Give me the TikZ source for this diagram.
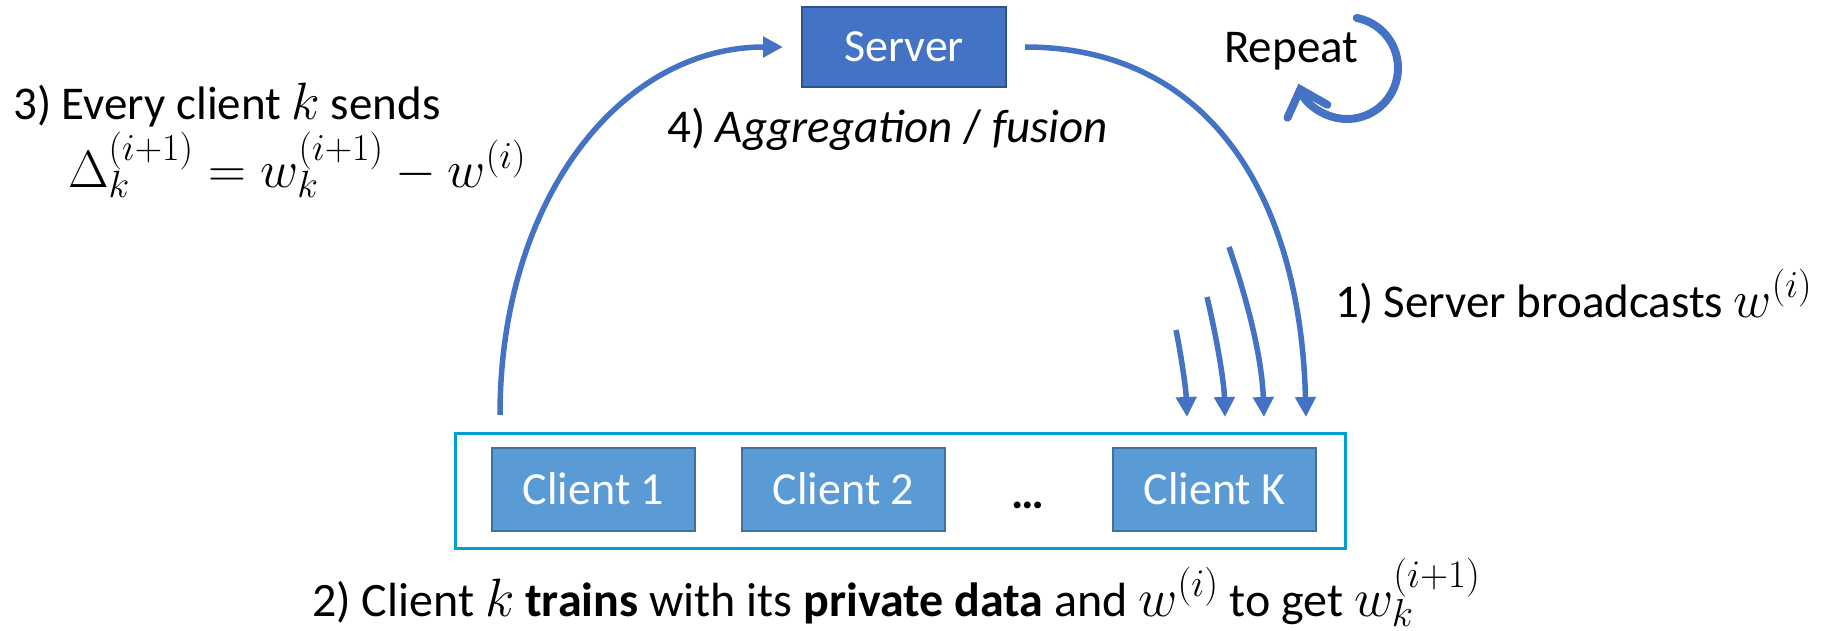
\RequirePackage{fix-cm}
\documentclass[tikz,border=0pt]{standalone}
\usepackage{fontspec}
\setmainfont{Carlito}
\usetikzlibrary{arrows.meta,calc}
\DeclareMathSizes{47}{52.5}{38}{29}
\DeclareMathSizes{48}{54}{39}{30}
\definecolor{srvfill}{HTML}{4472C4}
\definecolor{srvdraw}{HTML}{2F528F}
\definecolor{clifill}{HTML}{5B9BD5}
\definecolor{clidraw}{HTML}{41719C}
\definecolor{framec}{HTML}{00A0D2}
\definecolor{arrowc}{HTML}{4472C4}
\begin{document}
\begin{tikzpicture}[x=1pt,y=-1pt,
  every node/.style={font=\fontsize{46}{55}\selectfont, inner sep=0pt},
  srvbox/.style={draw=srvdraw, line width=2pt, fill=srvfill, text=white, minimum width=204pt, minimum height=80pt},
  clibox/.style={draw=clidraw, line width=2pt, fill=clifill, text=white, minimum width=203pt, minimum height=83pt},
  lbl/.style={anchor=base west, font=\fontsize{47}{56}\selectfont},
  flow/.style={draw=arrowc, line width=5.5pt, -{Triangle[length=20pt,width=20pt]}},
  rep/.style={draw=arrowc, line width=8pt, line cap=round, line join=round, -{Straight Barb[length=23pt,width=42pt,line cap=round]}}
]
\useasboundingbox (0,0) rectangle (1834,631);

\node[srvbox] (server) at (904,47) {Server};

\node[draw=framec, line width=3pt, minimum width=890pt, minimum height=115pt] (frame) at (900,490.5) {};
\node[clibox] (c1) at (593.5,489) {Client 1};
\node[clibox] (c2) at (843.5,489) {Client 2};
\node[font=\fontsize{46}{55}\selectfont\bfseries] (dots) at (1028,505) {…};
\node[clibox] (ck) at (1214.5,489) {Client K};

\coordinate (lstart) at (500,415);
\coordinate (lend) at (783,47);
\coordinate (rstart) at (1025,47);
\coordinate (rend) at (1306,417);
\draw[flow] (lstart) .. controls (500,200) and (620,47) .. (lend);
\draw[flow] (rstart) .. controls (1205,47) and (1300,190) .. (rend);

\coordinate (a1s) at (1176,330); \coordinate (a1e) at (1187,417);
\coordinate (a2s) at (1207,297); \coordinate (a2e) at (1225,417);
\coordinate (a3s) at (1229,247); \coordinate (a3e) at (1264,417);
\draw[flow] (a1s) .. controls (1182,360) and (1186,390) .. (a1e);
\draw[flow] (a2s) .. controls (1216,335) and (1224,380) .. (a2e);
\draw[flow] (a3s) .. controls (1249,305) and (1262,360) .. (a3e);

\node[lbl] (t3a) at (13,120) {3) Every client $k$ sends};
\node[lbl] (t3b) at (68,188) {$\Delta_k^{(i+1)} = w_k^{(i+1)} - w^{(i)}$};
\node[lbl] (t4) at (667,143) {4) \textit{Aggregation} / \textit{fusion}};
\node[lbl] (trep) at (1224,63) {Repeat};
\node[lbl] (t1) at (1335,317) {1) Server broadcasts $w^{(i)}$};
\node[lbl, font=\fontsize{48}{57}\selectfont] (t2) at (312,616) {2) Client $k$ \textbf{trains} with its \textbf{private data} and $w^{(i)}$ to get $w_k^{(i+1)}$};

\coordinate (rc) at (1347,68);
\draw[rep] ($(rc)+(-79:51)$) arc[start angle=-79, end angle=162, radius=51];
\end{tikzpicture}
\end{document}
